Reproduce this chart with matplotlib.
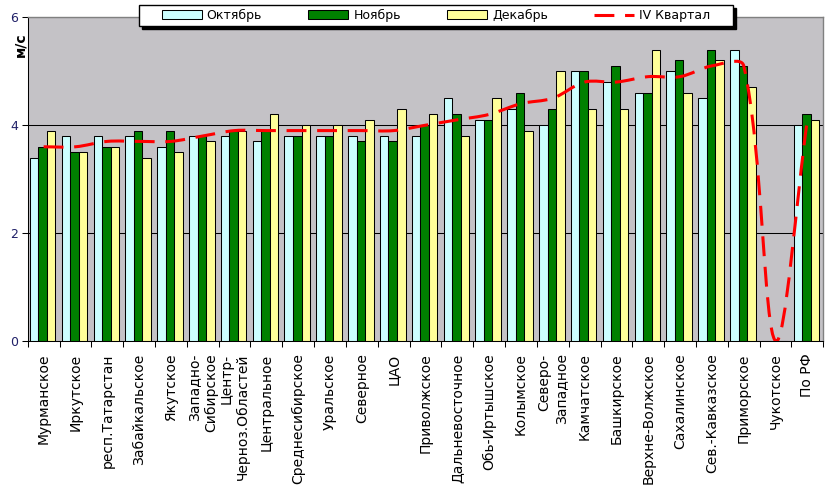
import numpy as np
import matplotlib.pyplot as plt
from matplotlib.path import Path
from matplotlib.patches import PathPatch, Rectangle, Patch
from matplotlib.lines import Line2D

# data (m/s)
regions = ['Мурманское', 'Иркутское', 'респ.Татарстан', 'Забайкальское', 'Якутское',
           'Западно-\nСибирское', 'Центр-\nЧерноз.Областей', 'Центральное', 'Среднесибирское',
           'Уральское', 'Северное', 'ЦАО', 'Приволжское', 'Дальневосточное', 'Обь-Иртышское',
           'Колымское', 'Северо-\nЗападное', 'Камчатское', 'Башкирское', 'Верхне-Волжское',
           'Сахалинское', 'Сев.-Кавказское', 'Приморское', 'Чукотское', 'По РФ']
october = [3.4, 3.8, 3.8, 3.8, 3.6, 3.8, 3.8, 3.7, 3.8, 3.8, 3.8, 3.8, 3.8,
           4.5, 4.1, 4.3, 4.0, 5.0, 4.8, 4.6, 5.0, 4.5, 5.4, 0.0, 4.0]
november = [3.6, 3.5, 3.6, 3.9, 3.9, 3.8, 3.9, 3.9, 3.8, 3.8, 3.7, 3.7, 4.0,
            4.2, 4.1, 4.6, 4.3, 5.0, 5.1, 4.6, 5.2, 5.4, 5.1, 0.0, 4.2]
december = [3.9, 3.5, 3.6, 3.4, 3.5, 3.7, 3.9, 4.2, 4.0, 4.0, 4.1, 4.3, 4.2,
            3.8, 4.5, 3.9, 5.0, 4.3, 4.3, 5.4, 4.6, 5.2, 4.7, 0.0, 4.1]
quarter = [3.6, 3.6, 3.7, 3.7, 3.7, 3.8, 3.9, 3.9, 3.9, 3.9, 3.9, 3.9, 4.0,
           4.1, 4.2, 4.4, 4.5, 4.8, 4.8, 4.9, 4.9, 5.1, 5.1, 0.0, 4.1]
series_names = ['Октябрь', 'Ноябрь', 'Декабрь', 'IV Квартал']

plt.rcParams['font.family'] = 'DejaVu Sans'

W, H = 828, 493
ax_l, ax_r, ax_t, ax_b = 27.7, 823.3, 17.3, 341
fig = plt.figure(figsize=(W / 100, H / 100), dpi=100)
fig.patch.set_facecolor('white')
ax = fig.add_axes([ax_l / W, 1 - ax_b / H, (ax_r - ax_l) / W, (ax_b - ax_t) / H])
ax.set_facecolor('#c4c2c6')

x = np.arange(len(regions))
w = 0.268
colors = ['#ccffff', '#008000', '#ffff99']
for k, (vals, c) in enumerate(zip([october, november, december], colors)):
    ax.bar(x + (k - 1) * w - 0.03, vals, width=w, color=c, edgecolor='black',
           linewidth=0.75, zorder=2)

ax.set_xlim(-0.5, len(regions) - 0.5)
ax.set_ylim(0, 6)

# smoothed line like excel: bezier, control points sized by segment length on screen
sx = (ax_r - ax_l) / len(regions)
sy = (ax_b - ax_t) / 6
pts = np.column_stack([x * sx, np.array(quarter) * sy]).astype(float)
n = len(pts)
seg = np.hypot(*np.diff(pts, axis=0).T)
c_out, c_in = [], []
for i in range(n):
    p_prev = pts[max(i - 1, 0)]
    p_next = pts[min(i + 1, n - 1)]
    d_prev = seg[i - 1] if i > 0 else 0.0
    d_next = seg[i] if i < n - 1 else 0.0
    tot = d_prev + d_next
    t = p_next - p_prev
    c_out.append(pts[i] + t * (d_next / tot) / 3)
    c_in.append(pts[i] - t * (d_prev / tot) / 3)
verts = [pts[0]]
codes = [Path.MOVETO]
for i in range(n - 1):
    verts += [c_out[i], c_in[i + 1], pts[i + 1]]
    codes += [Path.CURVE4] * 3
verts = np.array(verts) / [sx, sy]
dash = (0, (6.5, 3.5))
ax.add_patch(PathPatch(Path(verts, codes), fill=False, edgecolor='#ff0000',
                       linewidth=2.2, linestyle=dash, capstyle='butt', zorder=3))

ax.set_yticks([0, 2, 4, 6])
ax.yaxis.grid(True, color='black', linewidth=0.75)
ax.set_axisbelow(True)
ax.tick_params(axis='y', length=4, width=0.75, pad=3, labelsize=9, labelcolor='#202068')

ax.set_xticks(x)
ax.set_xticklabels(regions, rotation=90, ha='center', va='top', multialignment='right',
                   fontsize=10)
ax.set_xticks(np.arange(len(regions) + 1) - 0.5, minor=True)
ax.tick_params(axis='x', which='major', length=0, pad=9)
ax.tick_params(axis='x', which='minor', length=4, width=0.75)

for s in ['left', 'bottom']:
    ax.spines[s].set_color('black')
    ax.spines[s].set_linewidth(0.75)
for s in ['top', 'right']:
    ax.spines[s].set_color('#808080')
    ax.spines[s].set_linewidth(1.0)

fig.text(20 / W, 1 - 45 / H, 'м/с', rotation=90, ha='center', va='center',
         fontweight='bold', fontsize=10)

# legend box with a hard black shadow
bx0, bx1, by0, by1 = 139, 733, 5, 26
fig.patches.append(Rectangle(((bx0 + 3) / W, 1 - (by1 + 3) / H), (bx1 - bx0) / W,
                             (by1 - by0) / H, transform=fig.transFigure,
                             facecolor='black', edgecolor='black', zorder=5))
fig.patches.append(Rectangle((bx0 / W, 1 - by1 / H), (bx1 - bx0) / W, (by1 - by0) / H,
                             transform=fig.transFigure, facecolor='white',
                             edgecolor='black', linewidth=1.0, zorder=6))
handles = [Patch(facecolor=c, edgecolor='black', linewidth=0.75) for c in colors]
handles.append(Line2D([], [], color='#ff0000', linewidth=2.2, linestyle=dash))
leg = fig.legend(handles, series_names, ncol=4, frameon=False, loc='center',
                 bbox_to_anchor=((bx0 + bx1) / 2 / W, 1 - (by0 + by1) / 2 / H),
                 fontsize=9, handlelength=3.2, handleheight=0.65, handletextpad=0.4,
                 columnspacing=3.7, borderpad=0)
leg.set_zorder(7)

fig.savefig('out.png', dpi=100)
